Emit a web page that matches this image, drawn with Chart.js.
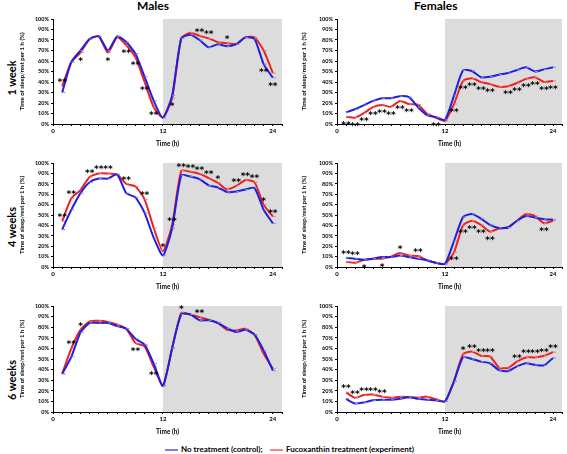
<!DOCTYPE html>
<html>
<head>
<meta charset="utf-8">
<script src="https://cdn.jsdelivr.net/npm/chart.js@4/dist/chart.umd.min.js"></script>
<style>
  body { margin: 0; width: 567px; height: 454px; background: #fff; position: relative; overflow: hidden;
         font-family: Lato, "Open Sans", sans-serif; color: #000; }
  .panel { position: absolute; }
  .col { position: absolute; top: -2px; font-weight: bold; font-size: 12px; }
  .row { position: absolute; width: 60px; height: 14px; line-height: 14px; text-align: center;
         font-weight: bold; font-size: 11px; transform: rotate(-90deg); white-space: nowrap; }
  .leg { position: absolute; top: 444px; font-size: 8px; font-weight: bold; white-space: nowrap; }
  .leg i { display: inline-block; width: 13px; height: 2px; vertical-align: middle; margin-right: 3px; }
</style>
</head>
<body>
<div class="col" style="left:137px">Males</div>
<div class="col" style="left:414px">Females</div>
<div class="row" style="left:-18px;top:71px">1 week</div>
<div class="row" style="left:-18px;top:220px">4 weeks</div>
<div class="row" style="left:-18px;top:373px">6 weeks</div>

<div class="panel" style="left:18px;top:13px"><canvas id="m1" width="269" height="135"></canvas></div>
<div class="panel" style="left:300px;top:13px"><canvas id="f1" width="267" height="135"></canvas></div>
<div class="panel" style="left:18px;top:157px"><canvas id="m4" width="269" height="134"></canvas></div>
<div class="panel" style="left:300px;top:157px"><canvas id="f4" width="267" height="134"></canvas></div>
<div class="panel" style="left:18px;top:300px"><canvas id="m6" width="269" height="136"></canvas></div>
<div class="panel" style="left:300px;top:300px"><canvas id="f6" width="267" height="136"></canvas></div>

<div class="leg" style="left:165px"><i style="background:#7f7fe8"></i>No treatment (control);</div>
<div class="leg" style="left:270px"><i style="background:#f08a8a"></i>Fucoxanthin treatment (experiment)</div>

<script>
// hours of the day
const hours = [1,2,3,4,5,6,7,8,9,10,11,12,13,14,15,16,17,18,19,20,21,22,23,24];
const xTickLabels = [0, 12, 24];

// males, 1 week
const m1Control = [30,59,70,81,83.5,70,83.5,78,67,45,22,6,27,81.5,85,80,73,76,74,76,82.5,81,57,44];
const m1Fuco    = [36,59,68,81,83.5,68,82.5,75,63.5,40,16,6,24.5,81.5,87,84,81.5,78,77,76,82.5,82.5,70,48.5];
const m1Stars   = ['**','','*','','','*','','**','**','**','**','','*','','','**','**','','*','','','','**','**'];
const m1Up      = [1,16,17,19];

// females, 1 week
const f1Control = [11,14,18,22,24.5,24.5,26.5,25.5,16,8.5,6.5,4,27,51,50.5,44.5,45,47,48.5,51.5,54,50,52,54];
const f1Fuco    = [7,6,10.5,16,18,16.5,22,19,18.5,10,6,3,19,41,43.5,40,38,35.5,36,39,43,44.5,40,41];
const f1Stars   = ['**','**','**','**','**','**','**','**','','','**','','**','**','**','**','**','','**','**','**','**','**','**'];
const f1Up      = [];

// males, 4 weeks
const m4Control = [36,55,71,81.5,85,85,89,71,67,52,28,11,37,88,87,84.5,78.5,76.5,72,72.5,74.5,76,55,42];
const m4Fuco    = [44,66,74,86.5,90,90,89,80,77.5,65,37.5,15,40.5,92.5,91.5,89.5,85.5,81,74.5,78,83.5,81.5,60,48.5];
const m4Stars   = ['**','**','','**','**','**','','**','','**','','*','**','**','**','**','**','*','','**','**','**','*','**'];
const m4Up      = hours;

// females, 4 weeks
const f4Control = [9,8,7,8,9.5,9.5,11,9.5,8,6.5,4,3,25,48,51,46.5,40.5,37.5,38,44.5,49,47.5,46,45.5];
const f4Fuco    = [5,4,7,8,8,10,13.5,11,10.5,6.5,4,3,14,40,44.5,40.5,34,37,38,44.5,51,49,42,44.5];
const f4Stars   = ['**','**','*','','*','','*','','**','','','','**','**','**','**','**','','','','','','**',''];
const f4Up      = [1,2,7,9];

// males, 6 weeks
const m6Control = [36,52,75,84,84,84,81,78.5,69,63.5,45.5,24.5,60,92,92,86.5,86.5,84,79,75.5,77.5,73,58,39];
const m6Fuco    = [36,60,77.5,85.5,86,85,82.5,78.5,65,62,42.5,25,60,93.5,92,89.5,87,84,77.5,77,78.5,73,55,41];
const m6Stars   = ['','**','*','','','','','','**','','**','','','*','','**','','','','','','','',''];
const m6Up      = [2,3,14,16];

// females, 6 weeks
const f6Control = [12.5,8,9,11,11.5,11.5,12.5,14,12.5,11.5,11,10,29,51.5,50,47.5,46,39.5,38.5,43,46,44.5,44,51];
const f6Fuco    = [18.5,13.5,16,16.5,14.5,13.5,14.5,14,13.5,14.5,12,10,29,54.5,57,53,52.5,42,41.5,47.5,51.5,51.5,53,56.5];
const f6Stars   = ['**','**','**','**','**','','','','','','','','','*','**','**','**','','','**','**','**','**','**'];
const f6Up      = hours;

const BLUE = '#1f1fe0';
const RED = '#ee2020';
const FONT = 'Lato, "Open Sans", sans-serif';

// grey "dark phase" band from hour 12 to the end of the axis
const darkPhase = {
    id: 'darkPhase',
    beforeDraw(chart) {
        const { ctx, chartArea: a, scales: { x } } = chart;
        const x0 = x.getPixelForValue(12);
        ctx.save();
        ctx.fillStyle = '#dcdcdc';
        ctx.fillRect(x0, a.top, a.right - x0, a.bottom - a.top);
        ctx.restore();
    }
};

// significance asterisks, above the higher line or below the lower one
function starPlugin(marks, up) {
    return {
        id: 'stars',
        afterDatasetsDraw(chart) {
            const { ctx, scales: { x, y } } = chart;
            const [b, r] = chart.data.datasets;
            ctx.save();
            ctx.fillStyle = '#000';
            ctx.font = 'bold 9px "DejaVu Sans", sans-serif';
            ctx.textAlign = 'center';
            ctx.textBaseline = 'alphabetic';
            marks.forEach((m, i) => {
                if (!m) return;
                const above = up.includes(hours[i]);
                const v = above ? Math.max(b.data[i].y, r.data[i].y) : Math.min(b.data[i].y, r.data[i].y);
                const py = y.getPixelForValue(v);
                ctx.fillText(m, x.getPixelForValue(hours[i]), above ? py - 1 : py + 11);
            });
            ctx.restore();
        }
    };
}

function makePanel(id, control, fuco, marks, up, yW, rightPad) {
    const toPts = arr => arr.map((v, i) => ({ x: hours[i], y: v }));
    new Chart(document.getElementById(id), {
        type: 'line',
        data: {
            datasets: [
                { label: 'No treatment (control)', data: toPts(control), borderColor: BLUE, borderWidth: 2,
                  pointStyle: 'dash', pointRadius: 3, pointBorderColor: '#8a8ad8', pointBorderWidth: 1, tension: 0.2 },
                { label: 'Fucoxanthin treatment (experiment)', data: toPts(fuco), borderColor: RED, borderWidth: 2,
                  pointStyle: 'dash', pointRadius: 3, pointBorderColor: '#d88a8a', pointBorderWidth: 1, tension: 0.2 }
            ]
        },
        options: {
            responsive: false,
            animation: false,
            devicePixelRatio: 1,
            layout: { padding: { top: 6, right: rightPad, left: 0, bottom: 0 } },
            plugins: { legend: { display: false }, tooltip: { enabled: false } },
            scales: {
                x: {
                    type: 'linear', min: 0, max: 25,
                    afterFit: s => { s.height = 24; },
                    ticks: {
                        stepSize: 1, autoSkip: false, maxRotation: 0, padding: 1,
                        color: '#000', font: { family: FONT, size: 6, weight: 'bold' },
                        callback: v => xTickLabels.includes(v) ? String(v) : ''
                    },
                    grid: { display: true, drawOnChartArea: false, drawTicks: true, tickLength: 2, color: '#000' },
                    border: { color: '#000', width: 1 },
                    title: { display: true, text: 'Time (h)', color: '#000', padding: 0,
                             font: { family: FONT, size: 6.5, weight: 'bold' } }
                },
                y: {
                    min: 0, max: 100,
                    afterFit: s => { s.width = yW; },
                    ticks: { stepSize: 10, padding: 2, color: '#000', callback: v => v + '%',
                             font: { family: FONT, size: 5.5, weight: 'bold' } },
                    grid: { display: true, drawOnChartArea: false, drawTicks: true, tickLength: 2, color: '#000' },
                    border: { color: '#000', width: 1 },
                    title: { display: true, text: 'Time of sleep/rest per 1 h (%)', color: '#000', padding: 0,
                             font: { family: FONT, size: 6, weight: 'bold' } }
                }
            }
        },
        plugins: [darkPhase, starPlugin(marks, up)]
    });
}

makePanel('m1', m1Control, m1Fuco, m1Stars, m1Up, 35, 4);
makePanel('f1', f1Control, f1Fuco, f1Stars, f1Up, 37, 2);
makePanel('m4', m4Control, m4Fuco, m4Stars, m4Up, 35, 4);
makePanel('f4', f4Control, f4Fuco, f4Stars, f4Up, 37, 2);
makePanel('m6', m6Control, m6Fuco, m6Stars, m6Up, 35, 4);
makePanel('f6', f6Control, f6Fuco, f6Stars, f6Up, 37, 2);
</script>
</body>
</html>
